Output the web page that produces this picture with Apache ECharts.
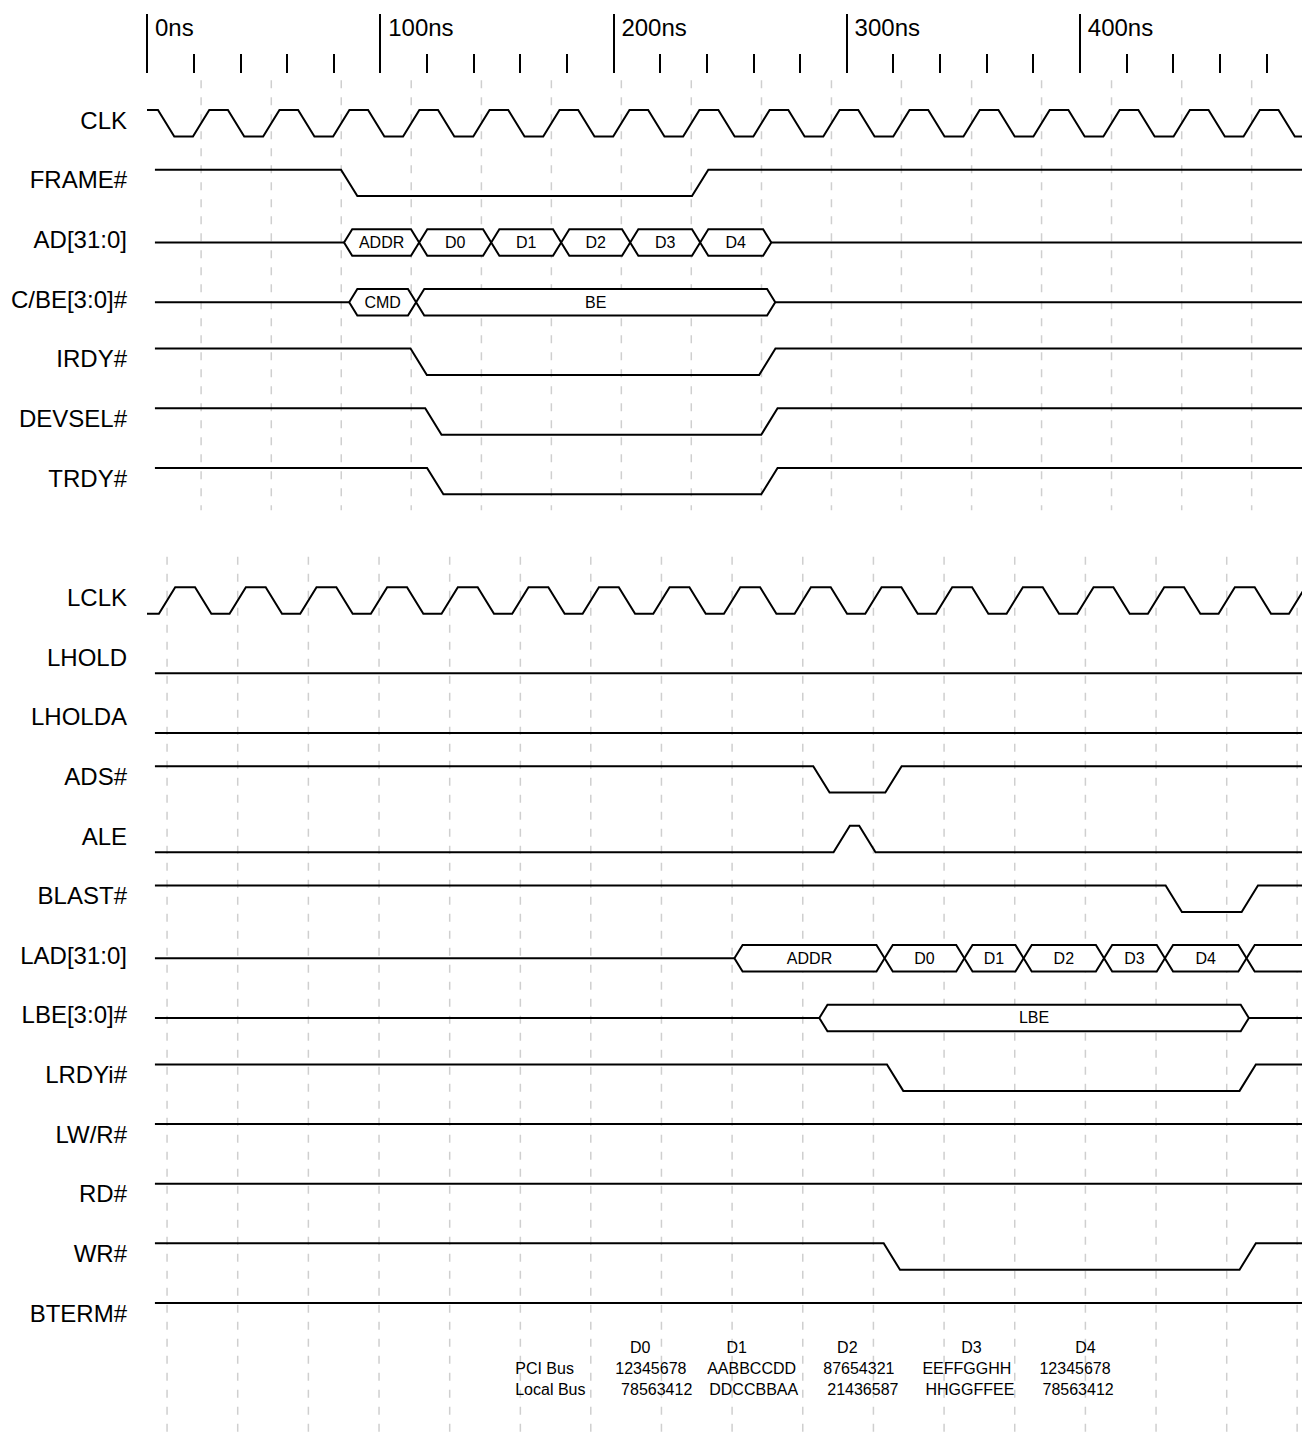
<!DOCTYPE html>
<html>
<head>
<meta charset="utf-8">
<script src="https://cdn.jsdelivr.net/npm/echarts/dist/echarts.min.js"></script>
<style>
html,body{margin:0;padding:0;background:#ffffff;}
#chart{width:1302px;height:1435px;}
</style>
</head>
<body>
<div id="chart"></div>
<script>
// ---------------- data (times in ns) ----------------
const signalNames = ['CLK','FRAME#','AD[31:0]','C/BE[3:0]#','IRDY#','DEVSEL#','TRDY#','',
  'LCLK','LHOLD','LHOLDA','ADS#','ALE','BLAST#','LAD[31:0]','LBE[3:0]#','LRDYi#','LW/R#','RD#','WR#','BTERM#'];

const timeTicks = [0, 100, 200, 300, 400];

// PCI clock edges (transition start times)
const clkFall = [4.7, 34.7, 64.8, 94.8, 124.8, 154.9, 184.9, 214.9, 245.0, 275.0, 305.0, 335.0, 365.1, 395.1, 425.1, 455.2, 485.2];
const clkRise = [19.7, 49.8, 79.8, 109.8, 139.9, 169.9, 199.9, 229.9, 260.0, 290.0, 320.0, 350.1, 380.1, 410.1, 440.2, 470.2];
// Local clock edges
const lclkRise = [5.1, 35.4, 65.7, 96.0, 126.3, 156.6, 186.8, 217.1, 247.4, 277.7, 308.0, 338.3, 368.6, 398.9, 429.2, 459.5, 489.7];
const lclkFall = [20.6, 50.9, 81.2, 111.5, 141.8, 172.1, 202.3, 232.6, 262.9, 293.2, 323.5, 353.8, 384.1, 414.4, 444.7, 475.0];

// single-bit signals: [transition start, new level]
const frameEdges  = [[83.2, 0], [233.7, 1]];
const irdyEdges   = [[113.0, 0], [262.5, 1]];
const devselEdges = [[119.3, 0], [263.4, 1]];
const trdyEdges   = [[120.1, 0], [263.4, 1]];
const adsEdges    = [[285.7, 0], [316.6, 1]];
const aleEdges    = [[294.4, 1], [305.4, 0]];
const blastEdges  = [[436.8, 0], [469.4, 1]];
const lrdyEdges   = [[317.3, 0], [468.5, 1]];
const wrEdges     = [[315.9, 0], [468.5, 1]];

// buses: crossing centre times and segment labels
const adBounds  = [84.5, 116.7, 147.6, 177.6, 207.2, 237.2, 267.7];
const adLabels  = ['ADDR', 'D0', 'D1', 'D2', 'D3', 'D4'];
const cbeBounds = [86.7, 115.4, 269.4];
const cbeLabels = ['CMD', 'BE'];
const ladBounds = [251.9, 316.3, 350.5, 375.9, 410.4, 436.5, 471.5];
const ladLabels = ['ADDR', 'D0', 'D1', 'D2', 'D3', 'D4', ''];
const lbeBounds = [288.3, 472.5];
const lbeLabels = ['LBE'];

// byte-swap table at the bottom
const tableHeaders = ['D0', 'D1', 'D2', 'D3', 'D4'];
const headerTimes  = [211.5, 252.9, 300.3, 353.5, 402.4];
const pciBus   = ['12345678', 'AABBCCDD', '87654321', 'EEFFGGHH', '12345678'];
const pciTimes = [200.8, 240.2, 290.0, 332.5, 382.7];
const localBus   = ['78563412', 'DDCCBBAA', '21436587', 'HHGGFFEE', '78563412'];
const localTimes = [203.3, 241.1, 291.7, 333.8, 384.0];
const tableRowNames = ['PCI Bus', 'Local Bus'];

// ---------------- drawing constants ----------------
const SLEW = 7, HALF = 3.5, LOW = 0.444, T_END = 500, T_START = 3.4;
const FONT = 'Liberation Sans, Arial, Helvetica, sans-serif';

function mergeClock(fall, rise) {
  return fall.map(t => [t, 0]).concat(rise.map(t => [t, 1])).sort((a, b) => a[0] - b[0]);
}

const signals = {
  'CLK':     {type: 'wave', t0: 0, init: 1, edges: mergeClock(clkFall, clkRise)},
  'FRAME#':  {type: 'wave', t0: T_START, init: 1, edges: frameEdges},
  'AD[31:0]':{type: 'bus', t0: T_START, bounds: adBounds, labels: adLabels},
  'C/BE[3:0]#':{type: 'bus', t0: T_START, bounds: cbeBounds, labels: cbeLabels},
  'IRDY#':   {type: 'wave', t0: T_START, init: 1, edges: irdyEdges},
  'DEVSEL#': {type: 'wave', t0: T_START, init: 1, edges: devselEdges},
  'TRDY#':   {type: 'wave', t0: T_START, init: 1, edges: trdyEdges},
  'LCLK':    {type: 'wave', t0: 0, init: 0, edges: mergeClock(lclkFall, lclkRise)},
  'LHOLD':   {type: 'wave', t0: T_START, init: 0, edges: []},
  'LHOLDA':  {type: 'wave', t0: T_START, init: 0, edges: []},
  'ADS#':    {type: 'wave', t0: T_START, init: 1, edges: adsEdges},
  'ALE':     {type: 'wave', t0: T_START, init: 0, edges: aleEdges},
  'BLAST#':  {type: 'wave', t0: T_START, init: 1, edges: blastEdges},
  'LAD[31:0]':{type: 'bus', t0: T_START, bounds: ladBounds, labels: ladLabels},
  'LBE[3:0]#':{type: 'bus', t0: T_START, bounds: lbeBounds, labels: lbeLabels},
  'LRDYi#':  {type: 'wave', t0: T_START, init: 1, edges: lrdyEdges},
  'LW/R#':   {type: 'wave', t0: T_START, init: 1, edges: []},
  'RD#':     {type: 'wave', t0: T_START, init: 1, edges: []},
  'WR#':     {type: 'wave', t0: T_START, init: 1, edges: wrEdges},
  'BTERM#':  {type: 'wave', t0: T_START, init: 1, edges: []}
};

// rows that exist
const rows = [];
signalNames.forEach((n, i) => { if (n) rows.push([0, i]); });

// dashed clock reference lines (middle of each rising clock edge)
const PCI_TOP = -0.5, PCI_BOTTOM = 6.71, LOC_TOP = 7.49, LOC_BOTTOM = 22.3;
const gridLines = clkRise.map(t => [t + HALF, PCI_TOP, PCI_BOTTOM])
  .concat(lclkRise.map(t => [t + HALF, LOC_TOP, LOC_BOTTOM]));

// bottom table items
const TABLE_ROWS = [20.754, 21.09, 21.458];
const tableItems = [];
tableHeaders.forEach((s, i) => tableItems.push({text: s, t: headerTimes[i], r: TABLE_ROWS[0], align: 'center'}));
tableItems.push({text: tableRowNames[0], t: 157.9, r: TABLE_ROWS[1], align: 'left'});
tableItems.push({text: tableRowNames[1], t: 157.9, r: TABLE_ROWS[2], align: 'left'});
pciBus.forEach((s, i) => tableItems.push({text: s, t: pciTimes[i], r: TABLE_ROWS[1], align: 'left'}));
localBus.forEach((s, i) => tableItems.push({text: s, t: localTimes[i], r: TABLE_ROWS[2], align: 'left'}));

// ---------------- render helpers ----------------
const LINE = {stroke: '#000', lineWidth: 2, fill: null};
function lv(row, l) { return row + (l ? 0 : LOW); }

function renderSignal(params, api) {
  const row = rows[params.dataIndex][1];
  const name = signalNames[row];
  const sig = signals[name];
  const children = [];
  const mid = row + LOW / 2;
  const namePos = api.coord([0, mid]);
  children.push({type: 'text', x: namePos[0] - 20, y: namePos[1] - 3,
    style: {text: name, fill: '#000', fontSize: 24, fontFamily: FONT, align: 'right', verticalAlign: 'middle'}});

  if (sig.type === 'wave') {
    let cur = sig.init;
    const pts = [api.coord([sig.t0, lv(row, cur)])];
    sig.edges.forEach(e => {
      pts.push(api.coord([e[0], lv(row, cur)]));
      pts.push(api.coord([e[0] + SLEW, lv(row, e[1])]));
      cur = e[1];
    });
    pts.push(api.coord([T_END, lv(row, cur)]));
    children.push({type: 'polyline', shape: {points: pts}, style: LINE});
  } else {
    const top = row, bot = row + LOW;
    const b = sig.bounds;
    children.push({type: 'polyline', shape: {points: [api.coord([sig.t0, mid]), api.coord([b[0], mid])]}, style: LINE});
    sig.labels.forEach((lab, i) => {
      const a = b[i];
      const e = b[i + 1];
      let poly;
      if (e !== undefined) {
        poly = [[a, mid], [a + HALF, top], [e - HALF, top], [e, mid], [e - HALF, bot], [a + HALF, bot]];
      } else {
        poly = [[a, mid], [a + HALF, top], [T_END + 20, top], [T_END + 20, bot], [a + HALF, bot]];
      }
      children.push({type: 'polygon', shape: {points: poly.map(p => api.coord(p))},
        style: {stroke: '#000', lineWidth: 2, fill: '#fff'}});
      if (lab) {
        const c = api.coord([(a + e) / 2, mid]);
        children.push({type: 'text', x: c[0], y: c[1],
          style: {text: lab, fill: '#000', fontSize: 16, fontFamily: FONT, align: 'center', verticalAlign: 'middle'}});
      }
    });
    if (b.length > sig.labels.length) {
      children.push({type: 'polyline', shape: {points: [api.coord([b[b.length - 1], mid]), api.coord([T_END, mid])]}, style: LINE});
    }
  }
  return {type: 'group', children: children};
}

function renderGrid(params, api) {
  const g = gridLines[params.dataIndex];
  const p1 = api.coord([g[0], g[1]]);
  const p2 = api.coord([g[0], g[2]]);
  return {type: 'line', shape: {x1: p1[0], y1: p1[1], x2: p2[0], y2: p2[1]},
    style: {stroke: '#cfcfcf', lineWidth: 1.5, lineDash: [8, 9]}};
}

function renderTable(params, api) {
  const it = tableItems[params.dataIndex];
  const p = api.coord([it.t, it.r]);
  return {type: 'text', x: p[0], y: p[1],
    style: {text: it.text, fill: '#000', fontSize: 16, fontFamily: FONT, align: it.align, verticalAlign: 'middle'}};
}

// ---------------- chart ----------------
const chart = echarts.init(document.getElementById('chart'), null, {renderer: 'svg'});
chart.setOption({
  animation: false,
  backgroundColor: '#ffffff',
  grid: {left: 147, right: -11, top: 73, bottom: 0, containLabel: false, outerBoundsMode: 'none'},
  xAxis: {
    type: 'value', position: 'top', min: timeTicks[0], max: 500, interval: 100,
    axisLine: {show: false, onZero: false},
    axisTick: {show: true, length: 59, lineStyle: {color: '#000', width: 2}},
    minorTick: {show: true, splitNumber: 5, length: 19, lineStyle: {color: '#000', width: 2}},
    splitLine: {show: false},
    minorSplitLine: {show: false},
    axisLabel: {
      show: true, margin: 34, align: 'left', padding: [0, 0, 0, 8],
      color: '#000', fontSize: 24, fontFamily: FONT,
      formatter: v => (timeTicks.indexOf(v) >= 0 ? v + 'ns' : '')
    }
  },
  yAxis: {type: 'value', min: -0.62, max: 22.213, inverse: true, show: false},
  series: [
    {type: 'custom', name: 'grid', renderItem: renderGrid, data: gridLines.map(g => [g[0], g[1]]),
      encode: {x: 0, y: 1}, z: 1, silent: true},
    {type: 'custom', name: 'signals', renderItem: renderSignal, data: rows,
      encode: {x: 0, y: 1}, z: 2, silent: true},
    {type: 'custom', name: 'table', renderItem: renderTable, data: tableItems.map(it => [it.t, it.r]),
      encode: {x: 0, y: 1}, z: 3, silent: true}
  ]
});
</script>
</body>
</html>
